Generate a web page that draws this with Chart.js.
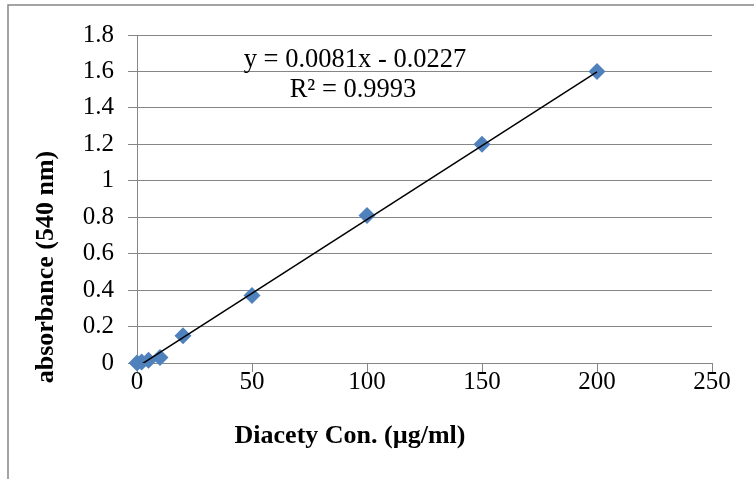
<html>
  <head>
    <meta charset="utf-8" />
    <title>Diacety standard curve</title>
    <style>
      body { margin: 0; background: #fff; }
      #wrap { width: 754px; height: 479px; }
    </style>
  </head>
  <body>
    <div id="wrap"><canvas id="canvasScatter"></canvas></div>

    <script src="https://cdn.jsdelivr.net/npm/chart.js"></script>
    <script>
      // 濃度 (µg/ml) 與吸光值
      var conc = [0, 2, 5, 10, 20, 50, 100, 150, 200];
      var absorb = [0, 0.005, 0.015, 0.03, 0.15, 0.37, 0.81, 1.2, 1.6];
      // 趨勢線 y = 0.0081x - 0.0227
      var slope = 0.0081;
      var intercept = -0.0227;
      var eqText = "y = 0.0081x - 0.0227";
      var r2Text = "R\u00b2 = 0.9993";
      var xTitle = "Diacety Con. (\u00b5g/ml)";
      var yTitle = "absorbance (540 nm)";

      var points = conc.map(function (c, i) {
        return { x: c, y: absorb[i] };
      });
      var trend = [
        { x: conc[0], y: slope * conc[0] + intercept },
        { x: conc[conc.length - 1], y: slope * conc[conc.length - 1] + intercept },
      ];

      var grey = "#868686";
      var serif = "'Liberation Serif', 'Times New Roman', serif";

      // 外框與文字
      var extras = {
        id: "extras",
        beforeDraw: function (chart) {
          var c = chart.ctx;
          c.save();
          c.strokeStyle = grey;
          c.lineWidth = 1.5;
          c.strokeRect(8, 5, 900, 700);
          c.restore();
        },
        afterDraw: function (chart) {
          var c = chart.ctx;
          c.save();
          c.fillStyle = "#000";
          c.textAlign = "center";
          c.textBaseline = "middle";
          c.font = "26.5px " + serif;
          c.fillText(eqText, 355, 60);
          c.fillText(r2Text, 353, 90);
          c.font = "bold 26px " + serif;
          c.fillText(xTitle, 350, 436);
          c.translate(46, 267);
          c.rotate(-Math.PI / 2);
          c.fillText(yTitle, 0, 0);
          c.restore();
        },
      };

      var ctx = document.getElementById("canvasScatter").getContext("2d");
      var chart = new Chart(ctx, {
        type: "scatter",
        data: {
          datasets: [
            {
              label: "data",
              data: points,
              pointStyle: "rectRot",
              pointRadius: 8.5,
              pointHoverRadius: 8.5,
              backgroundColor: "#4F81BD",
              borderColor: "#4F81BD",
              borderWidth: 0,
              clip: false,
              order: 2,
            },
            {
              type: "line",
              label: "trend",
              data: trend,
              borderColor: "#000",
              borderWidth: 1.5,
              pointRadius: 0,
              fill: false,
              order: 1,
            },
          ],
        },
        options: {
          responsive: true,
          maintainAspectRatio: false,
          animation: false,
          layout: { padding: { top: 35, right: 42, left: 0, bottom: 0 } },
          plugins: {
            legend: { display: false },
            tooltip: { enabled: false },
          },
          scales: {
            x: {
              type: "linear",
              min: 0,
              max: 250,
              ticks: {
                stepSize: 50,
                color: "#000",
                padding: -5,
                font: { family: serif, size: 25 },
              },
              grid: {
                drawOnChartArea: false,
                drawTicks: true,
                tickLength: 9,
                color: grey,
              },
              border: { color: grey, width: 1 },
              afterFit: function (s) {
                s.height = 116;
              },
            },
            y: {
              min: 0,
              max: 1.8,
              ticks: {
                stepSize: 0.2,
                color: "#000",
                padding: 14,
                font: { family: serif, size: 25 },
                callback: function (v) {
                  return String(Math.round(v * 10) / 10);
                },
              },
              grid: {
                color: grey,
                tickLength: 9,
              },
              border: { color: grey, width: 1 },
              afterFit: function (s) {
                s.width = 137;
              },
            },
          },
        },
        plugins: [extras],
      });
    </script>
  </body>
</html>
